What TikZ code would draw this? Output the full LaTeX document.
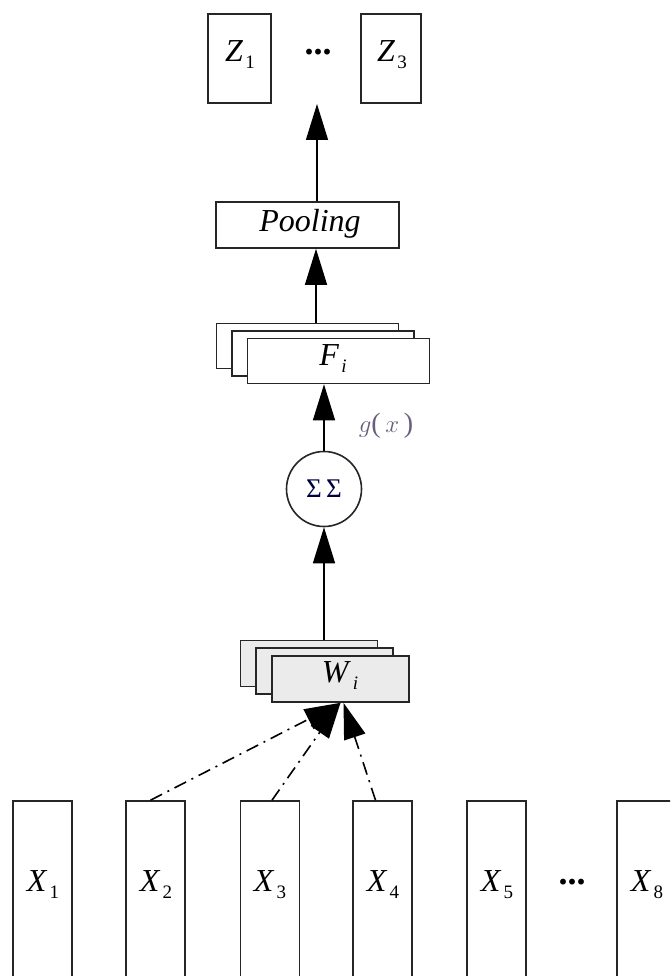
\documentclass[tikz,border=0pt]{standalone}
\usepackage{fontspec}
\setmainfont{Liberation Serif}
\usetikzlibrary{arrows.meta}
\newcommand{\sublab}[2]{\textit{#1}\kern2pt\raisebox{-7pt}{\fontsize{19}{19}\selectfont #2}}
\begin{document}
\begin{tikzpicture}[x=1pt,y=-1pt,
  box/.style={draw=black!85, line width=1.6pt, fill=white, rectangle, inner sep=0pt},
  wbox/.style={box, fill=black!8, minimum width=137pt, minimum height=46pt},
  fbox/.style={box, minimum width=182pt, minimum height=45pt},
  xbox/.style={box, minimum width=59pt, minimum height=200pt},
  txt/.style={font=\fontsize{32}{36}\selectfont, inner sep=0pt},
  dots/.style={inner sep=0pt, font=\fontsize{36}{36}\selectfont\bfseries},
  arr/.style={line width=1.4pt, -{Triangle[length=36pt,width=22pt]}},
  darr/.style={arr, line width=1.6pt, dash pattern=on 13pt off 6pt on 2pt off 6pt}]
\useasboundingbox (0,0) rectangle (670,976);
\clip (0,0) rectangle (670,976);
\fill[white] (0,0) rectangle (670,976);
% top outputs
\node[box, minimum width=63pt, minimum height=89pt] (z1) at (239.5,58.5) {};
\node[box, minimum width=60pt, minimum height=89pt] (z3) at (391,58.5) {};
\node[txt] (z1l) at (240,55) {\sublab{Z}{1}};
\node[txt] (z3l) at (392,55) {\sublab{Z}{3}};
\node[dots] (zdots) at (318,52) {...};
\coordinate (ztip) at (317,104);
% pooling
\node[box, minimum width=183pt, minimum height=46pt] (pool) at (307.5,225) {};
\node[txt] (pooll) at (310,224) {\textit{Pooling}};
% F stack
\node[fbox] (fb) at (307.5,346) {};
\node[fbox] (fm) at (323,353.5) {};
\node[fbox] (ff) at (338.5,361) {};
\node[txt] (fl) at (333,359) {\sublab{F}{\textit{i}}};
% sum
\node[circle, draw=black!85, line width=1.6pt, minimum size=75pt, inner sep=0pt] (sig) at (324,489) {};
\node[inner sep=0pt, font=\fontsize{27}{27}\selectfont, text=black!75!blue] (sigl) at (324,489) {Σ\,Σ};
\node[inner sep=0pt, font=\fontsize{28}{28}\selectfont, text={rgb,255:red,105;green,95;blue,125}] (gl) at (386,426) {$g$(\,$x$\,)};
% W stack
\node[wbox] (wb) at (309,663.5) {};
\node[wbox] (wm) at (324.5,671) {};
\node[wbox] (wf) at (340.5,679) {};
\node[txt] (wl) at (340,676) {\sublab{W}{\textit{i}}};
% inputs
\node[xbox] (x1) at (42.5,901) {};
\node[xbox] (x2) at (155.5,901) {};
\node[xbox] (x3) at (270,901) {};
\node[xbox] (x4) at (382.5,901) {};
\node[xbox] (x5) at (496.5,901) {};
\node[xbox] (x8) at (646.5,901) {};
\node[txt] (x1l) at (43,885) {\sublab{X}{1}};
\node[txt] (x2l) at (156,885) {\sublab{X}{2}};
\node[txt] (x3l) at (270,885) {\sublab{X}{3}};
\node[txt] (x4l) at (383,885) {\sublab{X}{4}};
\node[txt] (x5l) at (497,885) {\sublab{X}{5}};
\node[txt] (x8l) at (647,885) {\sublab{X}{8}};
\node[dots] (xdots) at (572,882) {...};
% connectors
\draw[arr] (pool.north -| ztip) -- (ztip);
\draw[arr] ([xshift=8.5pt]fb.north) -- ([xshift=8.5pt]pool.south);
\draw[arr] (sig.north) -- (sig.north |- ff.south);
\draw[arr] (sig.south |- wb.north) -- (sig.south);
\draw[darr] ([xshift=-5pt]x2.north) -- (wf.south);
\draw[darr] ([xshift=2pt]x3.north) -- (wf.south);
\draw[darr] ([xshift=-7pt]x4.north) -- ([xshift=3pt]wf.south);
\end{tikzpicture}
\end{document}
